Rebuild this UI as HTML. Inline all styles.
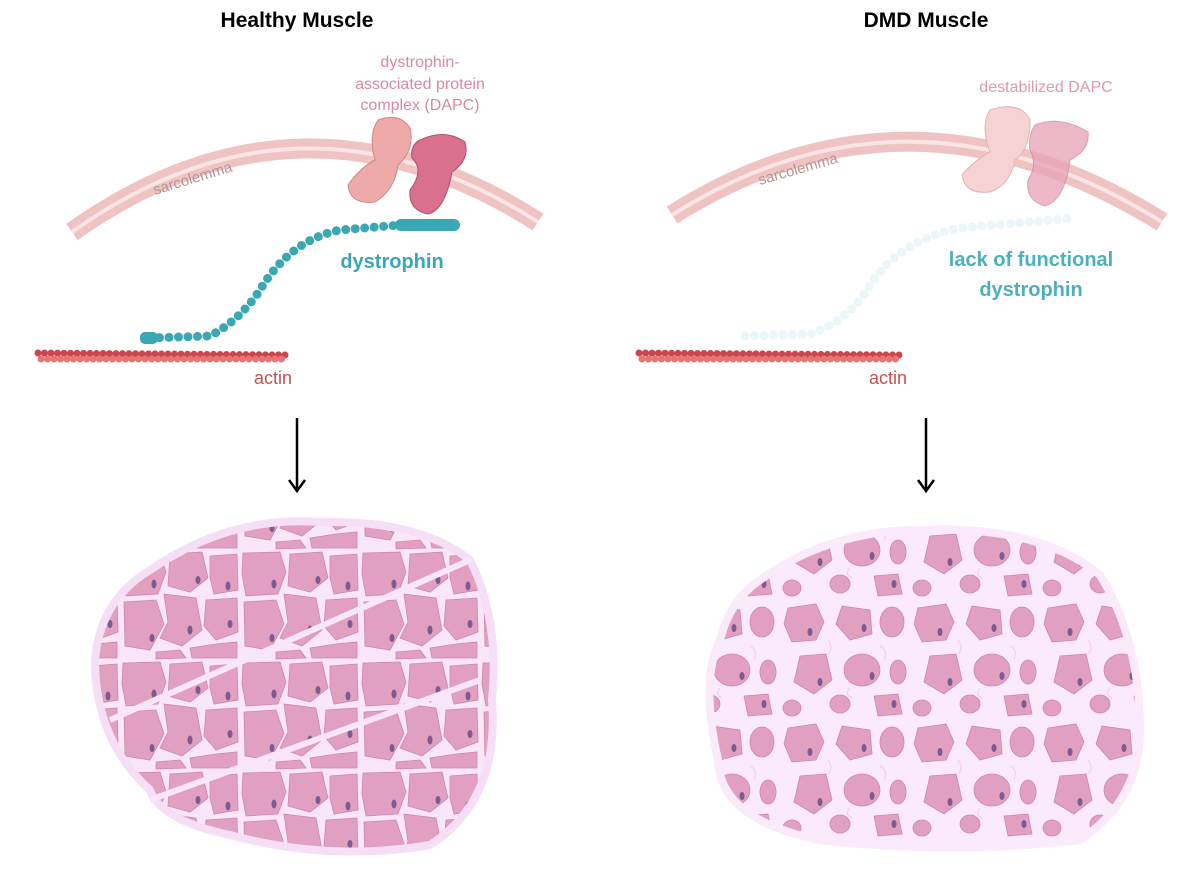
<!DOCTYPE html>
<html><head><meta charset="utf-8"><style>
body{margin:0;background:#fff;width:1183px;height:891px;overflow:hidden}
svg{display:block}
text{font-family:"Liberation Sans",sans-serif}
</style></head><body>
<svg width="1183" height="891" viewBox="0 0 1183 891">
<defs>
<pattern id="cellsA" width="120" height="110" patternUnits="userSpaceOnUse">
<rect width="120" height="110" fill="#f9e6f7"/>
<g fill="#e2a0c1" stroke="#cf86ad" stroke-width="0.8">
<path d="M3,3 L40,2 L46,22 L38,44 L6,46 L2,24Z"/>
<path d="M50,4 L82,2 L88,28 L70,42 L48,36Z"/>
<path d="M90,6 L117,4 L118,40 L94,44 L90,28Z"/>
<path d="M4,52 L36,50 L44,74 L30,100 L5,96Z"/>
<path d="M44,44 L76,48 L82,80 L62,96 L40,88 L48,72Z"/>
<path d="M86,50 L117,48 L118,82 L96,90 L84,76Z"/>
<path d="M36,102 L60,100 L66,108 L36,109Z"/>
<path d="M70,98 L96,94 L117,92 L117,108 L72,108Z"/>
</g>
<g fill="#7c5a94">
<ellipse cx="34" cy="34" rx="2.5" ry="4.5"/><ellipse cx="78" cy="30" rx="2.5" ry="4"/>
<ellipse cx="108" cy="36" rx="2.5" ry="4.5"/><ellipse cx="32" cy="88" rx="2.5" ry="4"/>
<ellipse cx="70" cy="80" rx="2.5" ry="4.5"/><ellipse cx="110" cy="74" rx="2.5" ry="4"/>
</g>
</pattern>
<pattern id="cellsB" width="130" height="120" patternUnits="userSpaceOnUse">
<rect width="130" height="120" fill="#fbebfa"/>
<g fill="#e2a0c1" stroke="#cf86ad" stroke-width="0.8">
<path d="M8,8 L36,4 L44,22 L36,40 L12,42 L4,24Z"/>
<path d="M62,6 L90,10 L92,34 L70,40 L56,24Z"/>
<ellipse cx="112" cy="22" rx="12" ry="15"/>
<path d="M20,56 L46,54 L52,80 L34,94 L14,82Z"/>
<ellipse cx="82" cy="70" rx="18" ry="16"/>
<ellipse cx="118" cy="72" rx="8" ry="12"/>
<ellipse cx="60" cy="104" rx="10" ry="9"/>
<path d="M94,96 L118,94 L122,114 L98,116Z"/>
<ellipse cx="12" cy="108" rx="9" ry="8"/>
</g>
<g fill="#7c5a94">
<ellipse cx="30" cy="32" rx="2.5" ry="4"/><ellipse cx="84" cy="28" rx="2.5" ry="4"/>
<ellipse cx="40" cy="82" rx="2.5" ry="4"/><ellipse cx="92" cy="76" rx="2.5" ry="4"/>
<ellipse cx="114" cy="104" rx="2.5" ry="4"/>
</g>
<g fill="none" stroke="#f0cdea" stroke-width="1"><path d="M48,40 q6,8 0,14 M100,46 q8,4 4,14 M70,88 q-6,6 2,10"/></g>
</pattern>
</defs>
<text x="297" y="27" font-size="21" font-weight="bold" text-anchor="middle">Healthy Muscle</text>
<text x="926" y="27" font-size="21" font-weight="bold" text-anchor="middle">DMD Muscle</text>

<path d="M72,232 Q300,70 538,222" fill="none" stroke="#f0c3c3" stroke-width="20"/>
<path d="M72,232 Q300,70 538,222" fill="none" stroke="#fbe4e4" stroke-width="4"/>
<text x="155" y="195" font-size="15" fill="#b79393" transform="rotate(-17 155 195)">sarcolemma</text>
<path d="M672,215 Q910,65 1162,222" fill="none" stroke="#f0c3c3" stroke-width="20"/>
<path d="M672,215 Q910,65 1162,222" fill="none" stroke="#fbe4e4" stroke-width="4"/>
<text x="760" y="185" font-size="15" fill="#b79393" transform="rotate(-16 760 185)">sarcolemma</text>

<text x="420" y="67" font-size="16" fill="#d98aa0" text-anchor="middle">dystrophin-</text>
<text x="420" y="89" font-size="16" fill="#d98aa0" text-anchor="middle">associated protein</text>
<text x="420" y="110" font-size="16" fill="#d98aa0" text-anchor="middle">complex (DAPC)</text>
<path d="M378,120 Q400,112 410,128 Q415,150 398,165 Q395,190 375,202 Q350,205 348,185 Q360,168 375,160 Q368,135 378,120Z" fill="#eeaaa8" stroke="#d08585"/>
<path d="M420,140 Q445,128 465,142 Q470,160 452,172 Q445,210 428,214 Q408,210 410,190 Q425,170 412,158 Q410,145 420,140Z" fill="#d8708e" stroke="#b34f70"/>
<path d="M150,338 L210,336 Q240,320 260,290 Q290,240 340,230 L400,225" fill="none" stroke="#3aa7b5" stroke-width="9" stroke-linecap="round" stroke-dasharray="0 9.5"/>
<rect x="395" y="219" width="65" height="12" rx="6" fill="#3aa7b5"/>
<rect x="140" y="332" width="18" height="12" rx="5" fill="#3aa7b5"/>
<text x="392" y="268" font-size="20" font-weight="bold" fill="#3aa7b5" text-anchor="middle">dystrophin</text>
<path d="M38,353 L288,355" stroke="#c9474c" stroke-width="7" stroke-linecap="round" stroke-dasharray="0 6.5"/>
<path d="M41,359 L286,359" stroke="#e57575" stroke-width="7" stroke-linecap="round" stroke-dasharray="0 6.5"/>
<text x="273" y="384" font-size="18" fill="#c45050" text-anchor="middle">actin</text>

<text x="1046" y="92" font-size="16" fill="#dd9aac" text-anchor="middle">destabilized DAPC</text>
<path d="M990,110 Q1020,100 1030,120 Q1030,150 1015,160 Q1010,185 990,192 Q965,195 962,175 Q975,160 990,152 Q980,125 990,110Z" fill="#f6d3d2" stroke="#e6b2b2"/>
<path d="M1035,125 Q1060,115 1088,132 Q1090,150 1070,160 Q1065,200 1045,206 Q1025,200 1028,180 Q1038,165 1030,150 Q1028,135 1035,125Z" fill="#e8a6b8" stroke="#d08aa0" opacity="0.8"/>
<path d="M745,336 L810,334 Q850,320 870,285 Q900,240 960,228 L1075,218" fill="none" stroke="#eaf6f7" stroke-width="9" stroke-linecap="round" stroke-dasharray="0 9.5"/>
<text x="1031" y="266" font-size="20" font-weight="bold" fill="#4db0bd" text-anchor="middle">lack of functional</text>
<text x="1031" y="296" font-size="20" font-weight="bold" fill="#4db0bd" text-anchor="middle">dystrophin</text>
<path d="M639,353 L903,355" stroke="#c9474c" stroke-width="7" stroke-linecap="round" stroke-dasharray="0 6.5"/>
<path d="M642,359 L900,359" stroke="#e57575" stroke-width="7" stroke-linecap="round" stroke-dasharray="0 6.5"/>
<text x="888" y="384" font-size="18" fill="#c45050" text-anchor="middle">actin</text>

<path d="M297,418 L297,490 M289,480 L297,491 L305,480" stroke="#000" stroke-width="2.5" fill="none"/>
<path d="M926,418 L926,490 M918,480 L926,491 L934,480" stroke="#000" stroke-width="2.5" fill="none"/>

<path d="M150,570 Q230,515 320,522 Q420,520 470,560 Q500,620 492,700 Q500,800 430,845 Q330,862 230,835 Q160,820 150,790 Q95,740 95,660 Q100,600 150,570Z" fill="url(#cellsA)" stroke="#f6dff6" stroke-width="8"/>
<path d="M110,720 L470,560 M150,800 L480,680" stroke="#f9e6f7" stroke-width="6"/>
<path d="M760,580 Q830,530 920,530 Q1040,525 1100,575 Q1140,640 1140,730 Q1140,800 1080,840 Q950,855 820,840 Q720,820 718,760 Q700,680 720,640 Q730,600 760,580Z" fill="url(#cellsB)" stroke="#faeafa" stroke-width="8"/>
</svg>
</body></html>
